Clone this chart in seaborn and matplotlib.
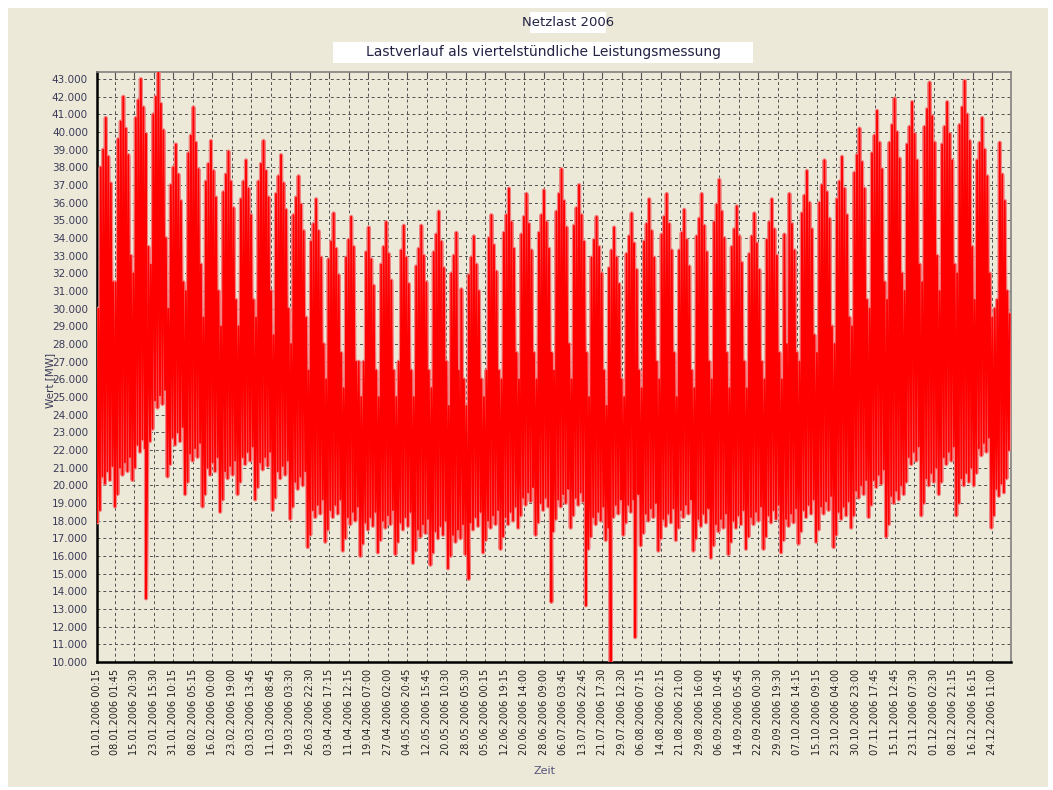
import pandas as pd
import matplotlib
matplotlib.use("Agg")
import matplotlib.pyplot as plt
from matplotlib.ticker import MultipleLocator, FuncFormatter
from matplotlib.patches import Rectangle
import matplotlib.dates as mdates
import seaborn as sns

# weekly blocks of 7 days starting Sunday 01.01.2006 (block 52 = 31.12 only)
wk_peak = [40800, 42000, 43000, 43400, 39300, 41400, 39500, 38900, 38400, 39500,
           38700, 37500, 36200, 35400, 35200, 34600, 34900, 34700, 34700, 35500,
           34300, 34100, 35300, 36800, 36500, 36700, 37900, 37000, 35200, 34600,
           35400, 36200, 36500, 35600, 36500, 37300, 35800, 35400, 36200, 36500,
           37800, 38400, 38600, 40200, 41200, 41900, 41700, 42800, 41700, 42900,
           40800, 39400, 29700]
core_peak = [39000, 40600, 41800, 42000, 38000, 39800, 38200, 37600, 37200, 38200,
             37500, 36300, 34800, 33800, 33900, 33200, 33500, 33300, 33400, 34200,
             33000, 32900, 34000, 35300, 35200, 35300, 36500, 35700, 33900, 33300,
             34100, 34800, 35200, 34300, 35100, 35900, 34500, 34100, 34900, 35200,
             36400, 37000, 37200, 38700, 39800, 40400, 40300, 41300, 40300, 41400,
             39400, 38000, 29700]
we_peak = [31500, 33000, 33500, 34000, 31500, 32500, 31000, 30500, 30500, 31000,
           30000, 29500, 28000, 27500, 27000, 26500, 26500, 26500, 26500, 27000,
           26000, 26000, 26500, 27500, 27500, 27500, 28000, 27500, 26500, 26000,
           26500, 27000, 27500, 26500, 27000, 27500, 27000, 27000, 27500, 27500,
           28500, 29000, 29500, 30500, 31500, 32000, 32500, 33000, 32500, 33500,
           32000, 31000, 29700]
core_low = [20500, 21000, 22300, 24800, 22700, 21800, 21000, 20800, 21600, 21300,
            20800, 20200, 18600, 18600, 18200, 17900, 18000, 17900, 17500, 17400,
            17200, 17900, 18000, 18200, 19300, 19000, 19200, 19300, 18200, 18600,
            18900, 18400, 18100, 18600, 18100, 17800, 18000, 18200, 18300, 18100,
            18600, 18800, 18500, 19700, 20300, 19400, 21600, 20400, 21600, 20400,
            22100, 19800, 22000]
wk_low = [17900, 18800, 20300, 22500, 20500, 19500, 18800, 18500, 19500, 19200,
          18600, 18100, 16500, 16800, 16300, 16000, 16200, 16100, 15600, 15500,
          15300, 16100, 16200, 16400, 17600, 17200, 17400, 17600, 16400, 16900,
          17200, 16600, 16300, 16900, 16300, 15900, 16100, 16400, 16400, 16200,
          16700, 16800, 16500, 17600, 18200, 17100, 19500, 18300, 19500, 18300,
          20000, 17600, 22000]

# typical day-of-week pattern (Sun..Sat): which weekly level and offset in MW
peak_source = ["we", "core", "core", "wk", "core", "core", "we"]
peak_offset = [-1500, -1000, 0, 0, -400, -1900, 0]
low_source = ["wk", "wk", "core", "core", "core", "core", "core"]
low_offset = [0, 700, 0, -400, 300, -200, 600]

holiday_dates = ["2006-04-14", "2006-04-17", "2006-05-01", "2006-05-25",
                 "2006-06-05", "2006-10-03", "2006-12-25", "2006-12-26"]
holiday_peaks = [27000, 27000, 27000, 26500, 26500, 28000, 30000, 30500]

dip_times = ["2006-01-20 14:00", "2006-05-29 10:00", "2006-07-01 11:00",
             "2006-07-15 06:00", "2006-07-25 03:00", "2006-08-03 22:00"]
dip_values = [13600, 14700, 13400, 13200, 10000, 11400]

tick_labels = [
    "01.01.2006 00:15", "08.01.2006 01:45", "15.01.2006 20:30", "23.01.2006 15:30",
    "31.01.2006 10:15", "08.02.2006 05:15", "16.02.2006 00:00", "23.02.2006 19:00",
    "03.03.2006 13:45", "11.03.2006 08:45", "19.03.2006 03:30", "26.03.2006 22:30",
    "03.04.2006 17:15", "11.04.2006 12:15", "19.04.2006 07:00", "27.04.2006 02:00",
    "04.05.2006 20:45", "12.05.2006 15:45", "20.05.2006 10:30", "28.05.2006 05:30",
    "05.06.2006 00:15", "12.06.2006 19:15", "20.06.2006 14:00", "28.06.2006 09:00",
    "06.07.2006 03:45", "13.07.2006 22:45", "21.07.2006 17:30", "29.07.2006 12:30",
    "06.08.2006 07:15", "14.08.2006 02:15", "21.08.2006 21:00", "29.08.2006 16:00",
    "06.09.2006 10:45", "14.09.2006 05:45", "22.09.2006 00:30", "29.09.2006 19:30",
    "07.10.2006 14:15", "15.10.2006 09:15", "23.10.2006 04:00", "30.10.2006 23:00",
    "07.11.2006 17:45", "15.11.2006 12:45", "23.11.2006 07:30", "01.12.2006 02:30",
    "08.12.2006 21:15", "16.12.2006 16:15", "24.12.2006 11:00",
]

levels = {"wk": wk_peak, "core": core_peak, "we": we_peak}
low_levels = {"wk": wk_low, "core": core_low}

# build the load series: one night low and one midday peak per day
start = pd.Timestamp("2006-01-01")
holidays = dict(zip(pd.to_datetime(holiday_dates), holiday_peaks))
rows = []
for d in range(365):
    b = d // 7
    dow = d % 7  # 0 = Sunday ... 6 = Saturday
    day = start + pd.Timedelta(days=d)
    peak = levels[peak_source[dow]][b] + peak_offset[dow]
    low = low_levels[low_source[dow]][b] + low_offset[dow]
    if b == 52:
        peak = wk_peak[b]
    if day in holidays:
        peak = holidays[day]
    rows.append((day + pd.Timedelta(hours=4), low))
    rows.append((day + pd.Timedelta(hours=12), peak))
for t, v in zip(pd.to_datetime(dip_times), dip_values):
    rows.append((t, v))

df = pd.DataFrame(rows, columns=["Zeit", "Wert"]).sort_values("Zeit").reset_index(drop=True)

sns.set_style("white")
plt.rcParams["font.family"] = ["DejaVu Sans"]

beige = "#ECE9D8"
txt = "#3a3a58"

fig = plt.figure(figsize=(10.53, 7.90), dpi=100, facecolor="white")
fig.patches.append(Rectangle((8 / 1053, 1 - 787 / 790), 1040 / 1053, 779 / 790,
                             transform=fig.transFigure, facecolor=beige,
                             edgecolor="none", zorder=-10))

ax = fig.add_axes([97 / 1053, 1 - 662 / 790, 914 / 1053, 590 / 790])
ax.set_facecolor(beige)

sns.lineplot(data=df, x="Zeit", y="Wert", ax=ax, color="#F28282", linewidth=3.0,
             estimator=None, sort=False, zorder=3)
sns.lineplot(data=df, x="Zeit", y="Wert", ax=ax, color="#FF0000", linewidth=1.3,
             estimator=None, sort=False, zorder=4)

ax.set_xlim(start, start + pd.Timedelta(days=365))
ax.set_ylim(10000, 43400)

ax.yaxis.set_major_locator(MultipleLocator(1000))
ax.yaxis.set_major_formatter(FuncFormatter(lambda v, p: f"{int(v):,}".replace(",", ".")))
ax.tick_params(axis="y", labelsize=7.5, labelcolor=txt, direction="out", length=3, color="#555555")

tick_pos = pd.to_datetime(tick_labels, format="%d.%m.%Y %H:%M")
ax.set_xticks(tick_pos)
ax.set_xticklabels(tick_labels, rotation=90, fontsize=7, color="#222222")
ax.xaxis.set_minor_locator(mdates.DayLocator(interval=2))
ax.tick_params(axis="x", which="major", direction="in", length=4, top=True, color="#555555", pad=5)
ax.tick_params(axis="x", which="minor", direction="in", length=2, top=False, color="#555555")

ax.grid(True, which="major", color="#505050", linestyle=(0, (3, 3)), linewidth=0.7, zorder=1)
ax.set_axisbelow(True)

for side in ("left", "bottom"):
    ax.spines[side].set_color("black")
    ax.spines[side].set_linewidth(1.8)
for side in ("top", "right"):
    ax.spines[side].set_color("#808080")
    ax.spines[side].set_linewidth(1.2)
    ax.spines[side].set_visible(True)

ax.set_xlabel("")
ax.set_ylabel("")
fig.text(545 / 1053, 1 - 771 / 790, "Zeit", ha="center", va="center", fontsize=8, color="#55557a")
fig.text(50 / 1053, 1 - 380 / 790, "Wert [MW]", ha="center", va="center", rotation=90,
         fontsize=7.5, color=txt)

# title boxes
fig.patches.append(Rectangle((530 / 1053, 1 - 33 / 790), 76 / 1053, 21 / 790,
                             transform=fig.transFigure, facecolor="white", edgecolor="none"))
fig.text(568 / 1053, 1 - 22 / 790, "Netzlast 2006", ha="center", va="center",
         fontsize=9.5, color="#222244")
fig.patches.append(Rectangle((333 / 1053, 1 - 63 / 790), 420 / 1053, 21 / 790,
                             transform=fig.transFigure, facecolor="white", edgecolor="none"))
fig.text(543 / 1053, 1 - 52 / 790, "Lastverlauf als viertelstündliche Leistungsmessung",
         ha="center", va="center", fontsize=10, color="#222244")

fig.savefig("out.png", dpi=100, facecolor=fig.get_facecolor())
